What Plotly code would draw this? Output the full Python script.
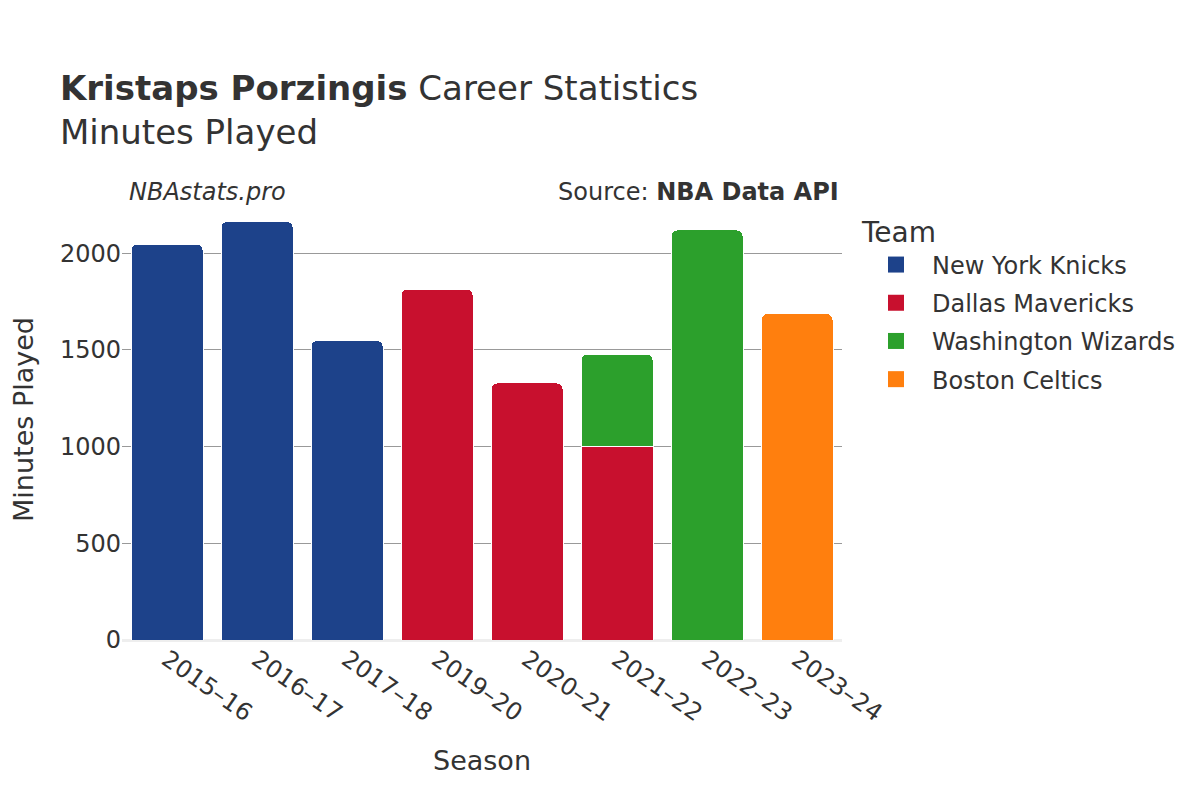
import plotly.graph_objects as go

seasons = ["2015–16", "2016–17", "2017–18", "2019–20", "2020–21", "2021–22", "2022–23", "2023–24"]
teams = ["New York Knicks", "Dallas Mavericks", "Washington Wizards", "Boston Celtics"]
colors = ["#1d428a", "#c8102e", "#2ca02c", "#ff7f0e"]
knicks = [2047, 2164, 1549, None, None, None, None, None]
mavericks = [None, None, None, 1814, 1329, 1003, None, None]
wizards = [None, None, None, None, None, 474, 2120, None]
celtics = [None, None, None, None, None, None, None, 1687]
values = [knicks, mavericks, wizards, celtics]

font = "DejaVu Sans"
fig = go.Figure()
for name, col, vals in zip(teams, colors, values):
    fig.add_trace(go.Bar(x=seasons, y=vals, name=name, marker_color=col,
                         marker_line_color="white", marker_line_width=1,
                         showlegend=False, legendgroup=name))
for name, col in zip(teams, colors):
    fig.add_trace(go.Scatter(x=[None], y=[None], mode="markers", name=name,
                             legendgroup=name,
                             marker=dict(symbol="square", size=21, color=col)))

fig.update_layout(
    width=1200, height=800,
    barmode="stack", bargap=0.2, barcornerradius=6,
    plot_bgcolor="white", paper_bgcolor="white",
    font=dict(family=font, color="#333", size=24),
    margin=dict(l=114, r=366, t=191, b=168, autoexpand=False),
    title=dict(text="<b>Kristaps Porzingis</b> Career Statistics<br>Minutes Played",
               x=0.0433, xanchor="left", y=0.885, yanchor="top",
               font=dict(size=34, color="#333")),
    legend=dict(title=dict(text="Team", font=dict(size=28)), font=dict(size=24),
                x=1.025, xanchor="left", y=0.984, yanchor="top",
                traceorder="grouped", tracegroupgap=4, itemwidth=62),
    xaxis=dict(title=dict(text="Season", font=dict(size=27), standoff=24), tickangle=35,
               tickfont=dict(size=24), showgrid=False, automargin=False),
    yaxis=dict(title=dict(text="Minutes Played", font=dict(size=27), standoff=35),
               tickfont=dict(size=24), gridcolor="#999", gridwidth=1,
               zeroline=True, zerolinecolor="#eee", zerolinewidth=3, automargin=False,
               range=[0, 2280], tickvals=[0, 500, 1000, 1500, 2000]),
    annotations=[
        dict(text="<i>NBAstats.pro</i>", x=0.007, xref="paper", y=0.98, yref="paper",
             xanchor="left", yanchor="bottom", showarrow=False, font=dict(size=24, color="#333")),
        dict(text="Source: <b>NBA Data API</b>", x=0.998, xref="paper", y=0.98, yref="paper",
             xanchor="right", yanchor="bottom", showarrow=False, font=dict(size=24, color="#333")),
    ],
)
fig.write_html("out.html")
